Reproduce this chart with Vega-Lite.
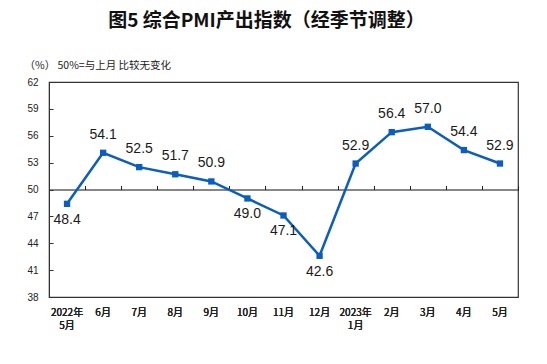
{
  "$schema": "https://vega.github.io/schema/vega-lite/v6.json",
  "autosize": "none",
  "width": 469,
  "height": 215,
  "padding": {"left": 49, "top": 82, "right": 29, "bottom": 67},
  "background": "white",
  "title": {
    "text": "图5 综合PMI产出指数（经季节调整）",
    "font": "Noto Sans CJK SC",
    "fontSize": 19,
    "fontWeight": "bold",
    "color": "#111111",
    "anchor": "middle",
    "frame": "group",
    "offset": 29,
    "dx": -17
  },
  "config": {
    "view": {"stroke": "#333333", "strokeWidth": 1.2},
    "axis": {"grid": false}
  },
  "data": {
    "values": [
      {"month": "2022年|5月", "value": 48.4},
      {"month": "6月", "value": 54.1},
      {"month": "7月", "value": 52.5},
      {"month": "8月", "value": 51.7},
      {"month": "9月", "value": 50.9},
      {"month": "10月", "value": 49.0},
      {"month": "11月", "value": 47.1},
      {"month": "12月", "value": 42.6},
      {"month": "2023年|1月", "value": 52.9},
      {"month": "2月", "value": 56.4},
      {"month": "3月", "value": 57.0},
      {"month": "4月", "value": 54.4},
      {"month": "5月", "value": 52.9}
    ]
  },
  "encoding": {
    "x": {
      "field": "month",
      "type": "nominal",
      "sort": null,
      "scale": {"paddingInner": 0, "paddingOuter": 0},
      "axis": {
        "title": null,
        "orient": "bottom",
        "labelAngle": 0,
        "ticks": false,
        "domain": false,
        "labelPadding": 10,
        "labelFont": "Noto Sans CJK SC",
        "labelFontSize": 10,
        "labelColor": "#222222",
        "labelLineHeight": 13,
        "labelExpr": "split(datum.value, '|')"
      }
    },
    "y": {
      "field": "value",
      "type": "quantitative",
      "scale": {"domain": [38, 62], "nice": false, "zero": false},
      "axis": {
        "values": [38, 41, 44, 47, 50, 53, 56, 59, 62],
        "title": "（%） 50%=与上月 比较无变化",
        "titleAngle": 0,
        "titleAlign": "left",
        "titleBaseline": "middle",
        "titleX": -25,
        "titleY": -17,
        "titleFont": "Noto Sans CJK SC",
        "titleFontSize": 10.5,
        "titleFontWeight": "normal",
        "titleColor": "#222222",
        "domain": true,
        "domainColor": "#333333",
        "tickColor": "#333333",
        "tickSize": -4,
        "labelPadding": 15,
        "labelFont": "Liberation Sans",
        "labelFontSize": 10,
        "labelColor": "#222222"
      }
    }
  },
  "layer": [
    {
      "mark": {"type": "line", "color": "#0B5DBF", "strokeWidth": 2.5},
      "encoding": {
        "x": {
          "field": "month",
          "type": "nominal",
          "sort": null,
          "axis": {
            "orient": "top",
            "offset": -107.5,
            "title": null,
            "labels": false,
            "ticks": true,
            "tickBand": "extent",
            "tickSize": 4,
            "tickColor": "#222222",
            "domain": true,
            "domainColor": "#111111",
            "domainWidth": 1.2
          }
        }
      }
    },
    {
      "mark": {"type": "square", "color": "#0B5DBF", "size": 40, "opacity": 1}
    },
    {
      "transform": [{"filter": "datum.value >= 50"}],
      "mark": {"type": "text", "dy": -18, "font": "Liberation Sans", "fontSize": 14, "color": "#1a1a1a"},
      "encoding": {"text": {"field": "value", "type": "quantitative", "format": ".1f"}}
    },
    {
      "transform": [{"filter": "datum.value < 50"}],
      "mark": {"type": "text", "dy": 16, "font": "Liberation Sans", "fontSize": 14, "color": "#1a1a1a"},
      "encoding": {"text": {"field": "value", "type": "quantitative", "format": ".1f"}}
    }
  ],
  "resolve": {"axis": {"x": "independent"}}
}
